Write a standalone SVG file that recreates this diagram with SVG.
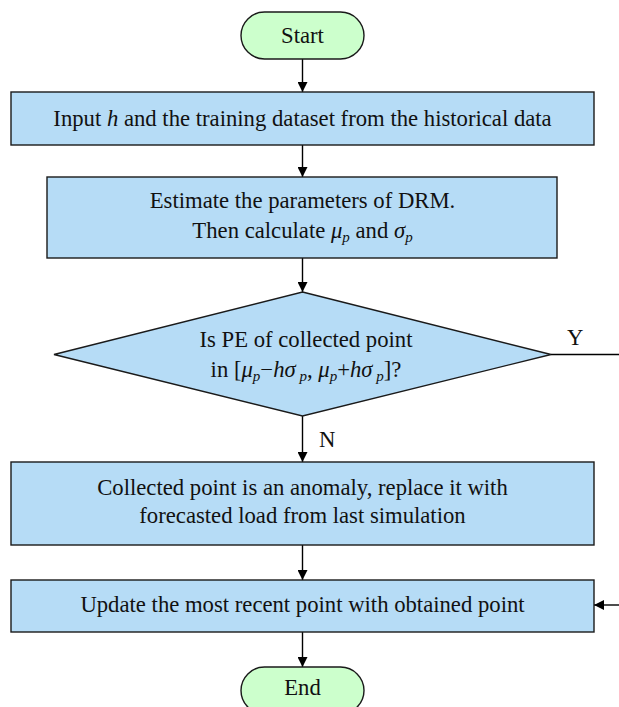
<svg xmlns="http://www.w3.org/2000/svg" width="619" height="707" viewBox="0 0 619 707">
<defs>
<marker id="ah" viewBox="0 0 10 10" refX="10" refY="5" markerWidth="10" markerHeight="10" markerUnits="userSpaceOnUse" orient="auto">
<path d="M0,0 L10,5 L0,10 z" fill="#000"/>
</marker>
<style>
.box{fill:#B6DCF6;stroke:#1a1a1a;stroke-width:1.4}
.term{fill:#CCFFCC;stroke:#1a1a1a;stroke-width:1.4}
text{font-family:'Liberation Serif',serif;font-size:22.7px;fill:#111}
.t{text-anchor:middle}
.c{stroke:#000;stroke-width:1.4;fill:none}
.ca{stroke:#000;stroke-width:1.4;fill:none;marker-end:url(#ah)}
.i{font-style:italic}
.s{font-size:15px;font-style:italic}
</style>
</defs>
<rect width="619" height="707" fill="#fff"/>
<g id="connectors">
<line class="ca" x1="302.5" y1="59" x2="302.5" y2="92"/>
<line class="ca" x1="302.5" y1="145" x2="302.5" y2="177"/>
<line class="ca" x1="302.5" y1="258" x2="302.5" y2="292"/>
<line class="ca" x1="302.5" y1="416" x2="302.5" y2="462"/>
<line class="ca" x1="302.5" y1="545" x2="302.5" y2="580"/>
<line class="ca" x1="302.5" y1="632" x2="302.5" y2="667"/>
<line class="c" x1="551" y1="354.5" x2="619" y2="354.5"/>
<line class="ca" x1="619" y1="605" x2="594" y2="605"/>
<text x="567" y="345">Y</text>
<text x="319" y="447">N</text>
</g>
<g id="start">
<rect class="term" x="241" y="12" width="123" height="47" rx="23.5"/>
<text class="t" x="302.5" y="43">Start</text>
</g>
<g id="input">
<rect class="box" x="11" y="92" width="583" height="53"/>
<text class="t" x="302.5" y="126">Input <tspan class="i">h</tspan> and the training dataset from the historical data</text>
</g>
<g id="estimate">
<rect class="box" x="47" y="177" width="510" height="81"/>
<text class="t" x="302.5" y="208">Estimate the parameters of DRM.</text>
<text class="t" x="302.5" y="238">Then calculate <tspan class="i">μ</tspan><tspan class="s" dy="4">p</tspan><tspan dy="-4"> and </tspan><tspan class="i">σ</tspan><tspan class="s" dy="4">p</tspan></text>
</g>
<g id="decision">
<polygon class="box" points="302.5,292 551,354.5 302.5,416 54,354.5"/>
<text class="t" x="306" y="347">Is PE of collected point</text>
<text class="t" x="306" y="377">in [<tspan class="i">μ</tspan><tspan class="s" dy="4">p</tspan><tspan dy="-4">−</tspan><tspan class="i">hσ</tspan><tspan class="s" dy="4"> p</tspan><tspan dy="-4">, </tspan><tspan class="i">μ</tspan><tspan class="s" dy="4">p</tspan><tspan dy="-4">+</tspan><tspan class="i">hσ</tspan><tspan class="s" dy="4"> p</tspan><tspan dy="-4">]?</tspan></text>
</g>
<g id="anomaly">
<rect class="box" x="11" y="462" width="583" height="83"/>
<text class="t" x="302.5" y="495">Collected point is an anomaly, replace it with</text>
<text class="t" x="302.5" y="523">forecasted load from last simulation</text>
</g>
<g id="update">
<rect class="box" x="11" y="580" width="583" height="52"/>
<text class="t" x="302.5" y="612">Update the most recent point with obtained point</text>
</g>
<g id="end">
<rect class="term" x="241" y="667" width="123" height="47" rx="23.5"/>
<text class="t" x="302.5" y="695">End</text>
</g>
</svg>
